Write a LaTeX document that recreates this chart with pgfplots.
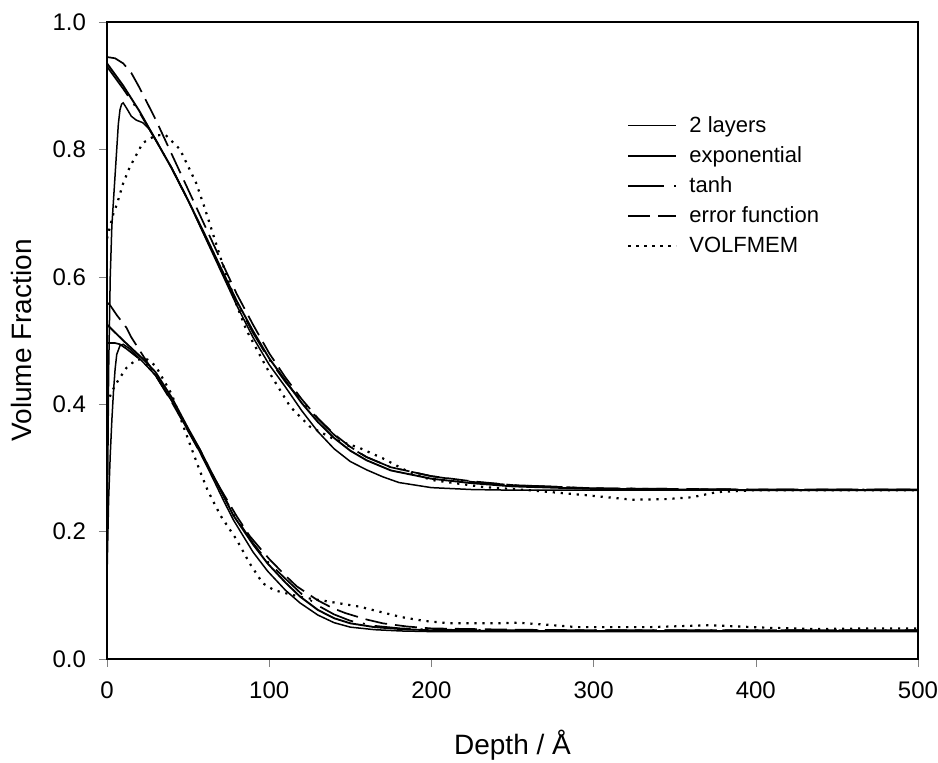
\documentclass[border=0pt]{standalone}
\usepackage{fontspec}
\setmainfont{Liberation Sans}
\usepackage{pgfplots}
\pgfplotsset{compat=1.18}
\begin{document}
\begin{tikzpicture}
\begin{axis}[
  at={(0,0)}, anchor=south west,
  scale only axis, width=405.5pt, height=318.5pt,
  xmin=0, xmax=500, ymin=0, ymax=1.0,
  xtick={0,100,200,300,400,500},
  ytick={0,0.2,0.4,0.6,0.8,1.0},
  xtick pos=bottom, ytick pos=left,
  tick align=outside, major tick length=4pt,
  /pgf/number format/assume math mode=true,
  tick label style={font=\fontsize{12}{14}\selectfont},
  yticklabel style={/pgf/number format/fixed,/pgf/number format/fixed zerofill,/pgf/number format/precision=1},
  xticklabel style={yshift=-4pt},
  yticklabel style={xshift=-3pt},
  axis line style={line width=0.8pt},
  xlabel={Depth / Å}, ylabel={Volume Fraction},
  label style={font=\fontsize{14}{16}\selectfont},
  xlabel style={at={(axis description cs:0.5,-0.135)}, anchor=center},
  ylabel style={at={(axis description cs:-0.105,0.5)}, anchor=center},
  legend style={at={(axis description cs:0.641,0.859)}, anchor=north west, draw=none, fill=none,
    font=\fontsize{11}{13}\selectfont, row sep=1.6pt, inner sep=0pt,
    /tikz/every odd column/.append style={column sep=4pt}},
  legend cell align=left,
  legend image code/.code={\draw[#1] (0pt,0pt) -- (24pt,0pt);},
  every axis plot/.append style={black, line width=0.85pt},
]
% ---------- upper set ----------
\addplot[solid, line width=0.75pt] coordinates {
(0,0.15)(1,0.45)(2,0.6)(3,0.68)(4,0.72)(5,0.76)(6,0.80)(7,0.84)(8,0.862)(9,0.871)(10,0.873)(12,0.865)(15,0.852)(18,0.846)(22,0.842)(26,0.832)(30,0.815)(40,0.77)(50,0.72)(60,0.665)(70,0.61)(80,0.555)(90,0.505)(100,0.462)(110,0.427)(120,0.39)(130,0.357)(140,0.33)(150,0.31)(160,0.297)(170,0.286)(180,0.277)(200,0.269)(225,0.266)(250,0.265)(500,0.265)};
\addlegendentry{2 layers}
\addplot[solid, line width=0.95pt] coordinates {
(0,0.935)(10,0.90)(20,0.86)(30,0.815)(40,0.77)(50,0.72)(60,0.668)(70,0.615)(80,0.562)(90,0.515)(100,0.472)(110,0.437)(120,0.402)(130,0.372)(140,0.347)(150,0.327)(160,0.312)(175,0.296)(200,0.283)(225,0.276)(250,0.271)(300,0.267)(350,0.266)(400,0.265)(500,0.265)};
\addlegendentry{exponential}
\addplot[dash pattern=on 18pt off 5pt on 1pt off 5pt] coordinates {
(0,0.93)(10,0.895)(20,0.858)(30,0.815)(40,0.77)(50,0.72)(60,0.666)(70,0.612)(80,0.56)(90,0.512)(100,0.47)(110,0.435)(120,0.405)(130,0.377)(140,0.352)(150,0.332)(160,0.317)(175,0.301)(200,0.287)(225,0.278)(250,0.273)(300,0.268)(400,0.266)(500,0.266)};
\addlegendentry{tanh}
\addplot[dash pattern=on 11pt off 4pt] coordinates {
(0,0.945)(5,0.943)(10,0.935)(15,0.92)(20,0.897)(25,0.872)(30,0.847)(40,0.792)(50,0.737)(60,0.682)(70,0.627)(80,0.573)(90,0.525)(100,0.48)(110,0.442)(120,0.408)(130,0.378)(140,0.353)(150,0.333)(160,0.317)(175,0.301)(200,0.287)(225,0.279)(250,0.273)(300,0.268)(400,0.266)(500,0.266)};
\addlegendentry{error function}
\addplot[dash pattern=on 1.1pt off 2.9pt, line width=1.1pt] coordinates {
(0,0.66)(2,0.68)(4,0.70)(6,0.713)(8,0.73)(10,0.747)(14,0.772)(22,0.81)(30,0.822)(36,0.823)(45,0.80)(55,0.747)(60,0.71)(70,0.63)(80,0.555)(86,0.516)(100,0.45)(113,0.396)(125,0.365)(140,0.345)(156,0.331)(170,0.315)(185,0.295)(200,0.281)(232,0.27)(260,0.265)(296,0.257)(324,0.25)(345,0.251)(361,0.254)(376,0.262)(400,0.265)(450,0.265)(500,0.265)};
\addlegendentry{VOLFMEM}
% ---------- lower set ----------
\addplot[solid, line width=0.75pt, forget plot] coordinates {
(0,0.13)(1,0.25)(2,0.32)(3,0.375)(4,0.42)(5,0.455)(6,0.478)(8,0.492)(10,0.494)(14,0.487)(20,0.472)(30,0.445)(40,0.405)(50,0.358)(57,0.326)(65,0.285)(72,0.248)(78,0.218)(90,0.168)(99,0.138)(110,0.108)(119,0.088)(130,0.069)(140,0.057)(150,0.05)(165,0.046)(181,0.044)(200,0.043)(500,0.043)};
\addplot[solid, line width=0.95pt, forget plot] coordinates {
(0,0.525)(10,0.50)(23,0.469)(30,0.45)(40,0.41)(50,0.362)(57,0.33)(65,0.29)(72,0.255)(78,0.225)(90,0.18)(99,0.15)(110,0.12)(119,0.098)(130,0.077)(140,0.064)(150,0.056)(165,0.05)(181,0.047)(200,0.045)(250,0.044)(500,0.044)};
\addplot[dash pattern=on 18pt off 5pt on 1pt off 5pt, forget plot] coordinates {
(0,0.496)(5,0.496)(8,0.494)(12,0.487)(18,0.475)(25,0.46)(30,0.445)(40,0.405)(50,0.36)(57,0.33)(65,0.29)(72,0.256)(78,0.227)(90,0.182)(99,0.153)(110,0.126)(120,0.102)(130,0.084)(140,0.07)(150,0.06)(165,0.052)(181,0.048)(200,0.046)(250,0.045)(500,0.045)};
\addplot[dash pattern=on 11pt off 4pt, forget plot] coordinates {
(0,0.56)(2,0.555)(6,0.54)(12,0.52)(15,0.505)(20,0.485)(25,0.465)(30,0.445)(40,0.403)(50,0.358)(60,0.312)(70,0.267)(80,0.224)(88,0.193)(100,0.157)(110,0.131)(117,0.114)(130,0.092)(139,0.08)(147,0.072)(160,0.062)(170,0.056)(185,0.051)(200,0.048)(250,0.046)(300,0.045)(500,0.045)};
\addplot[dash pattern=on 1.1pt off 2.9pt, line width=1.1pt, forget plot] coordinates {
(0,0.40)(3,0.42)(7,0.438)(12,0.457)(18,0.47)(25,0.47)(30,0.46)(40,0.415)(50,0.345)(57,0.297)(62,0.265)(70,0.225)(80,0.187)(88,0.15)(96,0.119)(103,0.108)(109,0.104)(120,0.097)(137,0.09)(156,0.082)(170,0.073)(181,0.066)(195,0.06)(211,0.056)(242,0.056)(253,0.057)(270,0.054)(290,0.05)(335,0.05)(372,0.053)(407,0.049)(438,0.047)(470,0.048)(500,0.048)};
\end{axis}
\pgfresetboundingbox
\path[use as bounding box] (-53.5pt,-52pt) rectangle (415.5pt,329.5pt);
\end{tikzpicture}
\end{document}
